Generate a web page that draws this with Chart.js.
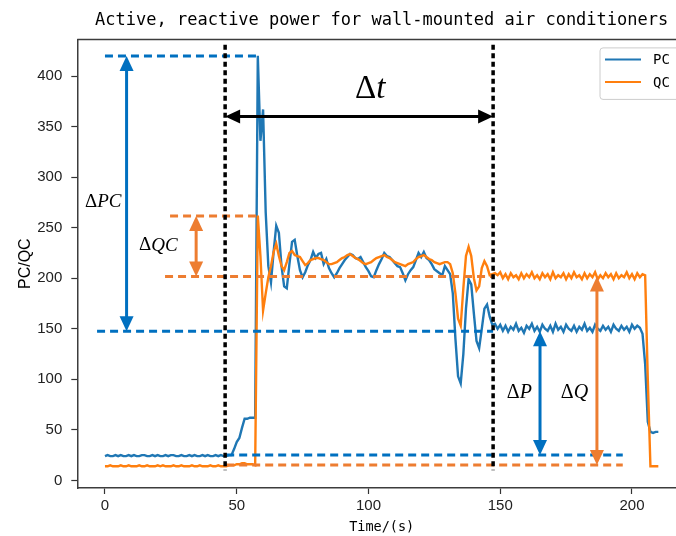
<!DOCTYPE html>
<html>
<head>
<meta charset="utf-8">
<title>Active, reactive power</title>
<script src="https://cdn.jsdelivr.net/npm/chart.js@4.4.1/dist/chart.umd.min.js"></script>
<style>
  html, body { margin: 0; padding: 0; background: #fff; overflow: hidden; }
  #wrap { position: relative; width: 686px; height: 536px; }
</style>
</head>
<body>
<div id="wrap"><canvas id="powerChart"></canvas></div>
<script>
// active power PC, one sample per second (0..210 s)
const pc = [
  24, 25, 24, 24, 25, 24, 25, 24, 24, 25, 24, 25, 24, 24, 25, 25,
  24, 24, 25, 24, 25, 24, 24, 25, 24, 25, 25, 24, 24, 25, 24, 24,
  25, 24, 25, 24, 24, 25, 24, 25, 24, 24, 25, 24, 25, 24, 24, 25,
  25, 31, 38, 42, 52, 61, 61, 62, 62, 62,
  420, 336, 367, 265, 212, 196, 226, 252, 245, 212,
  192, 190, 214, 236, 238, 222, 208, 201, 206, 213,
  218, 226, 220, 224, 225, 214, 219, 210, 205, 201,
  205, 210, 214, 218, 221, 224, 223, 220, 219, 221,
  216, 211, 207, 202, 201, 208, 214, 219, 225, 222,
  221, 218, 215, 212, 211, 205, 198, 204, 208, 211,
  218, 225, 221, 226, 220, 218, 214, 209, 207, 205,
  203, 212, 208, 204, 185, 140, 103, 96, 125, 170,
  199, 194, 165, 138, 131, 150, 170, 174, 162, 154, 155,
  150, 154, 148, 153, 147, 152, 149, 155, 148, 151,
  146, 153, 150, 155, 148, 152, 147, 154, 150, 148,
  153, 147, 155, 149, 152, 147, 154, 150, 148, 153,
  147, 152, 149, 155, 148, 151, 147, 154, 150, 148,
  153, 149, 152, 147, 154, 150, 148, 153, 149, 152,
  147, 154, 150, 153, 151,
  145, 115, 58, 48, 47, 48, 48
];

// reactive power QC, same sampling
const qc = [
  14, 14, 15, 14, 14, 14, 15, 14, 14, 15, 14, 14, 14, 15, 14, 14,
  15, 14, 14, 14, 15, 14, 15, 14, 14, 14, 15, 14, 14, 15, 14, 14,
  14, 15, 14, 14, 15, 14, 14, 14, 15, 14, 14, 15, 14, 14, 14, 15,
  15, 15, 16, 16, 17, 17, 16, 16, 16, 15,
  262, 222, 168, 185, 201, 212, 226, 234, 222, 212,
  208, 216, 225, 227, 223, 222, 221, 217, 213, 215,
  218, 219, 220, 220, 219, 218, 216, 214, 214, 215,
  216, 218, 220, 221, 223, 224, 222, 220, 219, 217,
  215, 214, 215, 216, 218, 220, 221, 222, 223, 221,
  220, 218, 216, 215, 214, 213, 212, 214, 215, 216,
  219, 221, 222, 223, 221, 219, 218, 216, 215, 214,
  215, 216, 216, 214, 205, 185, 160, 153, 190, 222,
  231, 222, 200, 188, 192, 210, 217, 212, 203, 204, 205,
  203, 206, 200, 204, 199, 205, 201, 203, 199, 205,
  200, 204, 201, 206, 200, 203, 199, 205, 201, 204,
  199, 206, 200, 203, 201, 205, 199, 204, 200, 206,
  201, 203, 199, 205, 200, 204, 201, 206, 199, 203,
  200, 205, 201, 204, 199, 205, 200, 203, 201, 206,
  200, 204, 199, 205, 201, 204,
  203, 100, 14, 14, 14, 14
];

const seriesNames = ['PC', 'QC'];
const xTicks = [0, 50, 100, 150, 200];
const yTicks = [0, 50, 100, 150, 200, 250, 300, 350, 400];

// sample times in seconds
const time = pc.map((_, i) => i);

const BLUE = '#0070c0';
const ORANGE = '#ed7d31';

// dashed level lines: [from t, to t, level, colour]
const levelLines = [
  [0, 57.6, 420, BLUE],
  [-3, 147.3, 147.6, BLUE],
  [46, 196.5, 25.2, BLUE],
  [24.7, 59, 261.5, ORANGE],
  [22.8, 147.3, 201.7, ORANGE],
  [46, 196.5, 15.2, ORANGE]
];
// start / end of the transient (dotted verticals)
const markerTimes = [45.6, 147.3];
// double-headed arrows: [t0, v0, t1, v1, colour]
const spans = [
  [8.2, 420, 8.2, 147.6, BLUE],
  [34.6, 261.5, 34.6, 201.7, ORANGE],
  [165.1, 147.6, 165.1, 25.2, BLUE],
  [186.7, 201.7, 186.7, 15.2, ORANGE],
  [45.6, 360, 147.3, 360, '#000']
];
// delta labels: [symbol, t, v, font size]
const spanLabels = [
  ['PC', -7.6, 275, 19],
  ['QC', 12.9, 232.4, 19],
  ['t', 94.9, 387, 33],
  ['P', 152.5, 86.5, 20],
  ['Q', 173, 86.5, 20]
];

function arrowHead(ctx, tx, ty, ang, len, wid) {
  const c = Math.cos(ang), s = Math.sin(ang);
  ctx.beginPath();
  ctx.moveTo(tx, ty);
  ctx.lineTo(tx - len * c + wid / 2 * s, ty - len * s - wid / 2 * c);
  ctx.lineTo(tx - len * c - wid / 2 * s, ty - len * s + wid / 2 * c);
  ctx.closePath();
  ctx.fill();
}

const guides = {
  id: 'guides',
  afterDatasetsDraw(chart) {
    const { ctx, chartArea: a, scales: { x, y } } = chart;
    ctx.save();

    // top spine
    ctx.strokeStyle = '#3c3c3c';
    ctx.lineWidth = 1.5;
    ctx.beginPath();
    ctx.moveTo(a.left, a.top);
    ctx.lineTo(a.right, a.top);
    ctx.stroke();

    ctx.lineCap = 'butt';
    ctx.lineWidth = 3;
    ctx.setLineDash([8, 5]);
    levelLines.forEach(([t0, t1, v, col]) => {
      ctx.strokeStyle = col;
      ctx.beginPath();
      ctx.moveTo(x.getPixelForValue(t0), y.getPixelForValue(v));
      ctx.lineTo(x.getPixelForValue(t1), y.getPixelForValue(v));
      ctx.stroke();
    });

    ctx.strokeStyle = '#000';
    ctx.lineWidth = 3.5;
    ctx.setLineDash([5, 3.5]);
    markerTimes.forEach(t => {
      const px = x.getPixelForValue(t);
      ctx.beginPath();
      ctx.moveTo(px, y.getPixelForValue(431));
      ctx.lineTo(px, y.getPixelForValue(10));
      ctx.stroke();
    });
    ctx.setLineDash([]);

    const head = 15, headW = 14;
    spans.forEach(([t0, v0, t1, v1, col]) => {
      const x0 = x.getPixelForValue(t0), y0 = y.getPixelForValue(v0);
      const x1 = x.getPixelForValue(t1), y1 = y.getPixelForValue(v1);
      const ang = Math.atan2(y1 - y0, x1 - x0);
      const dx = Math.cos(ang) * head, dy = Math.sin(ang) * head;
      ctx.strokeStyle = col;
      ctx.fillStyle = col;
      ctx.lineWidth = 3;
      ctx.beginPath();
      ctx.moveTo(x0 + dx * 0.8, y0 + dy * 0.8);
      ctx.lineTo(x1 - dx * 0.8, y1 - dy * 0.8);
      ctx.stroke();
      arrowHead(ctx, x1, y1, ang, head, headW);
      arrowHead(ctx, x0, y0, ang + Math.PI, head, headW);
    });

    ctx.fillStyle = '#000';
    ctx.textBaseline = 'middle';
    ctx.textAlign = 'left';
    spanLabels.forEach(([sym, t, v, size]) => {
      const px = x.getPixelForValue(t), py = y.getPixelForValue(v);
      ctx.font = size + 'px "Liberation Serif"';
      ctx.fillText('\u0394', px, py);
      const w = ctx.measureText('\u0394').width;
      ctx.font = 'italic ' + size + 'px "Liberation Serif"';
      ctx.fillText(sym, px + w, py);
    });

    // legend box in the upper right corner
    const lx = a.right - 86, ly = a.top + 8.5;
    ctx.fillStyle = 'rgba(255,255,255,0.85)';
    ctx.strokeStyle = '#cccccc';
    ctx.lineWidth = 1;
    ctx.beginPath();
    ctx.roundRect(lx, ly, 110, 51.5, 3);
    ctx.fill();
    ctx.stroke();
    ctx.font = '14px "DejaVu Sans Mono"';
    chart.data.datasets.forEach((ds, i) => {
      const ry = ly + 11.5 + i * 22.7;
      ctx.strokeStyle = ds.borderColor;
      ctx.lineWidth = 2;
      ctx.beginPath();
      ctx.moveTo(lx + 5, ry);
      ctx.lineTo(lx + 41, ry);
      ctx.stroke();
      ctx.fillStyle = '#000';
      ctx.fillText(ds.label, lx + 53, ry + 1);
    });

    ctx.restore();
  }
};

const tickFont = { family: '"Liberation Sans", Arial, sans-serif', size: 15 };

new Chart(document.getElementById('powerChart').getContext('2d'), {
  type: 'line',
  data: {
    datasets: [{
      label: seriesNames[0],
      data: time.map((t, i) => ({ x: t, y: pc[i] })),
      borderColor: '#1f77b4',
      borderWidth: 2.4,
      pointRadius: 0,
      tension: 0,
      order: 2
    }, {
      label: seriesNames[1],
      data: time.map((t, i) => ({ x: t, y: qc[i] })),
      borderColor: '#ff7f0e',
      borderWidth: 2.4,
      pointRadius: 0,
      tension: 0,
      order: 1
    }]
  },
  options: {
    responsive: true,
    maintainAspectRatio: false,
    animation: false,
    layout: { padding: 0 },
    plugins: {
      legend: { display: false },
      tooltip: { enabled: false },
      title: {
        display: true,
        fullSize: false,
        text: 'Active, reactive power for wall-mounted air conditioners',
        color: '#000',
        font: { family: '"DejaVu Sans Mono", monospace', size: 17, weight: 'normal' },
        padding: { top: 10, bottom: 9 }
      }
    },
    scales: {
      x: {
        type: 'linear',
        min: -10.5,
        max: 220.5,
        afterBuildTicks: s => { s.ticks = xTicks.map(v => ({ value: v })); },
        afterFit: s => { s.height = 48; },
        grid: { drawOnChartArea: false, drawTicks: true, tickLength: 6, tickColor: '#333', tickWidth: 1.2 },
        border: { display: true, color: '#3c3c3c', width: 1.5 },
        ticks: { font: tickFont, color: '#222', padding: 3, maxRotation: 0 },
        title: {
          display: true,
          text: 'Time/(s)',
          color: '#000',
          font: { family: '"DejaVu Sans Mono", monospace', size: 13.5 },
          padding: { top: 0, bottom: 0 }
        }
      },
      y: {
        min: -7.5,
        max: 436.3,
        afterBuildTicks: s => { s.ticks = yTicks.map(v => ({ value: v })); },
        afterFit: s => { s.width = 77.3; },
        grid: { drawOnChartArea: false, drawTicks: true, tickLength: 6, tickColor: '#333', tickWidth: 1.2 },
        border: { display: true, color: '#3c3c3c', width: 1.5 },
        ticks: { font: tickFont, color: '#222', padding: 9 },
        title: {
          display: true,
          text: 'PC/QC',
          color: '#000',
          font: { family: '"Liberation Sans", Arial, sans-serif', size: 16 },
          padding: { top: 16, bottom: 0 }
        }
      }
    }
  },
  plugins: [guides]
});
</script>
</body>
</html>
